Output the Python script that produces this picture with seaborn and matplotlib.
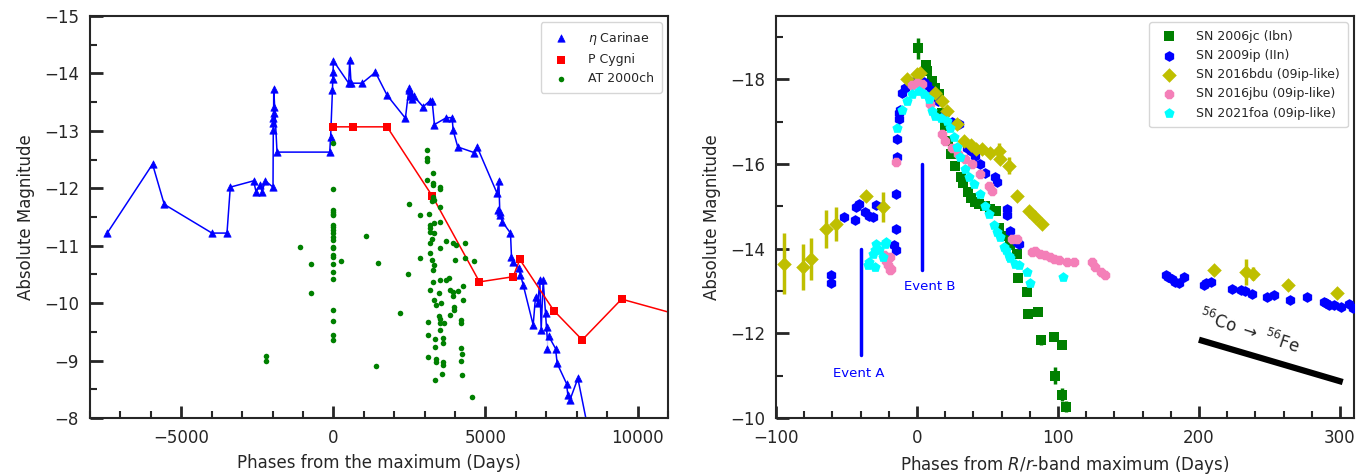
import numpy as np
import pandas as pd
import matplotlib
matplotlib.use("Agg")
import matplotlib.pyplot as plt
from matplotlib.ticker import MultipleLocator
import seaborn as sns

sns.set_style("ticks")
plt.rcParams['font.family'] = ['DejaVu Sans']

# ---------------- Left panel data ----------------
eta_x = [-7434, -5944, -5559, -3990, -3497, -3388, -2620, -2543, -2401, -2346, -2237, -1984,
         -1975, -1972, -1969, -1966, -1963, -1960, -1852, -120, -90, -30, -20, -10, 0,
         503, 537, 581, 943, 1382, 1766, 2368, 2477, 2500, 2530, 2560, 2600, 2650, 2950,
         3168, 3247, 3322, 3717, 3904, 3937, 4089, 4638, 4726, 5384, 5439, 5471, 5417,
         5493, 5548, 5822, 5855, 5910, 6096, 6151, 6239, 6568, 6645, 6721, 6787, 6831,
         6897, 6974, 7029, 7029, 7083, 7303, 7357, 7664, 7708, 7774, 8037, 8450]
eta_y = [-11.22, -12.42, -11.72, -11.22, -11.22, -12.02, -12.13, -11.94, -12.06, -11.94, -12.13, -12.02,
         -13.01, -13.13, -13.22, -13.31, -13.42, -13.73, -12.63, -12.63, -12.90, -13.71, -13.91, -14.02, -14.22,
         -13.83, -14.23, -13.83, -13.83, -14.02, -13.62, -13.22, -13.71, -13.74, -13.60, -13.65, -13.55, -13.60, -13.42,
         -13.52, -13.52, -13.11, -13.23, -13.23, -13.01, -12.72, -12.62, -12.72, -11.91, -12.13, -11.59, -11.62,
         -11.53, -11.42, -11.22, -10.81, -10.72, -10.61, -10.49, -10.32, -9.62, -10.11, -10.00, -10.40, -9.53,
         -10.40, -9.82, -9.59, -9.21, -9.42, -9.21, -8.95, -8.60, -8.40, -8.31, -8.69, -7.60]

pcyg_x = [-10, 648, 1766, 3246, 4803, 5910, 6129, 7247, 8180, 9474, 12000]
pcyg_y = [-13.07, -13.07, -13.07, -11.87, -10.37, -10.46, -10.76, -9.87, -9.36, -10.07, -9.70]

at_x = [0, 0, 0, 0, 0, 0, 0, 0, 0, 0, 0, 0, 0, 0, 0, 0, 0, 0, 0, 0, 0, 0, 0,
        -1086, -734, -734, -2204, -2204, 252, 1075, 1470, 1404,
        3082, 3082, 3082, 3280, 3082, 3280, 3280, 3497, 3497, 2500, 3280, 3300, 3497, 2862, 3136, 3245,
        3497, 3300, 3168, 3168, 3168, 3300, 3250, 3191, 3497, 3191, 3246, 3300, 3280, 3717, 3937, 4046,
        4342, 2851, 2456, 4013, 4342, 4616, 3497, 3793, 3717, 3280, 3191, 3827, 3937, 4089, 3937, 4276,
        4276, 3464, 3300, 3388, 3530, 3980, 3980, 2182, 3464, 3849, 3103, 3497, 3497, 3651, 4200, 4200,
        3497, 3114, 3332, 3596, 3596, 3332, 4211, 4243, 3114, 3366, 3366, 3607, 3607, 4211, 3585, 3355,
        4243, 4572]
at_y = [-12.78, -11.98, -11.62, -11.59, -11.56, -11.53, -11.36, -11.33, -11.27, -11.22, -11.16, -11.10,
        -10.98, -10.96, -10.84, -10.81, -10.69, -10.55, -10.42, -9.88, -9.69, -9.45, -9.35,
        -10.98, -10.68, -10.18, -9.08, -9.00, -10.74, -11.17, -10.70, -8.91,
        -12.67, -12.53, -12.47, -12.26, -12.14, -12.10, -12.05, -12.03, -11.98, -11.73, -11.84, -11.80, -11.68, -11.53, -11.56, -11.77,
        -11.42, -11.39, -11.36, -11.30, -11.24, -11.22, -11.12, -11.04, -10.96, -10.87, -10.75, -10.66, -10.57, -11.09, -11.04, -11.01,
        -11.05, -10.79, -10.51, -10.75, -10.78, -10.73, -10.40, -10.43, -10.40, -10.37, -10.23, -10.23, -10.20, -10.22, -10.12, -10.30,
        -10.05, -10.17, -10.05, -9.97, -10.00, -9.94, -9.88, -9.82, -9.78, -9.79, -9.68, -9.72, -9.65, -9.65, -9.71, -9.65,
        -9.53, -9.45, -9.37, -9.40, -9.30, -9.23, -9.22, -9.11, -9.06, -9.03, -8.98, -8.97, -8.93, -8.99, -8.77, -8.67,
        -8.75, -8.37]

# ---------------- Right panel data ----------------
sn06_x = [0.5, 6.5, 7, 10.5, 13, 15.5, 18, 20, 22, 24, 27, 31, 33, 36, 38, 41, 44, 48, 52, 56, 58,
          62, 66, 71, 72, 78, 79, 86, 88, 97, 98, 103, 103, 106]
sn06_y = [-18.74, -18.35, -18.20, -17.96, -17.80, -17.65, -17.20, -16.90, -16.55, -16.25, -15.95, -15.70,
          -15.55, -15.35, -15.20, -15.10, -15.05, -15.00, -14.95, -14.90, -14.50, -14.30, -14.10, -13.88,
          -13.30, -12.98, -12.45, -12.50, -11.85, -11.92, -11.00, -11.72, -10.55, -10.27]
sn06_e = [0.25, 0.05, 0.05, 0.05, 0.05, 0.05, 0.05, 0.05, 0.05, 0.05, 0.05, 0.05, 0.05, 0.05, 0.05,
          0.05, 0.05, 0.05, 0.05, 0.05, 0.05, 0.05, 0.05, 0.05, 0.05, 0.05, 0.08, 0.05, 0.12, 0.05,
          0.20, 0.05, 0.15, 0.12]

sn09_x = [-61, -61, -52, -44, -43, -41, -37, -34, -31, -29, -15, -15, -16, -15, -14.5, -14, -13, -13,
          -12, -10.7, -8.3, -4, 0, 5, 7, 10, 15, 20, 25, 29.5, 35.5, 38, 41.4, 45, 48.5, 55.6, 56.8,
          63.9, 63.9, 66.3, 71, 72.2, 176.4, 178, 181.1, 183, 185.8, 189.3, 203.6, 205, 208.3, 223.7,
          229.6, 233, 237.9, 248.6, 253.3, 264.6, 277, 288.4, 290, 292.3, 296, 300.6, 306.5, 309]
sn09_y = [-13.37, -13.18, -14.74, -14.67, -14.98, -15.06, -14.86, -14.78, -14.74, -15.04, -15.29, -14.47,
          -14.08, -13.96, -16.16, -16.59, -17.06, -17.21, -17.29, -17.68, -17.80, -17.95, -17.98, -17.95,
          -17.88, -17.75, -17.50, -17.20, -17.00, -16.94, -16.39, -16.31, -16.20, -16.00, -15.80, -15.69,
          -15.57, -14.94, -14.80, -14.43, -14.15, -14.12, -13.37, -13.33, -13.29, -13.22, -13.18, -13.33,
          -13.14, -13.20, -13.21, -13.06, -13.02, -12.99, -12.94, -12.86, -12.90, -12.78, -12.85, -12.74,
          -12.72, -12.67, -12.68, -12.63, -12.70, -12.59]

sn16b_x = [-94, -81, -75, -64.4, -57.3, -36, -24.2, -7.1, 0, 2.3, 13, 17.8, 21.3, 28.4, 33.1, 38, 42,
           46.2, 52, 58, 59.2, 65, 71, 79.3, 84, 88.8, 210.7, 233.2, 238.6, 263.2, 297.8]
sn16b_y = [-13.65, -13.57, -13.76, -14.47, -14.59, -15.25, -14.98, -18.00, -18.12, -18.16, -17.68, -17.49,
           -17.25, -16.94, -16.55, -16.45, -16.35, -16.35, -16.27, -16.31, -16.12, -15.96, -15.25, -14.90,
           -14.74, -14.59, -13.49, -13.45, -13.41, -13.15, -12.96]
sn16b_e = [0.73, 0.55, 0.50, 0.45, 0.40, 0.10, 0.35, 0.10, 0.10, 0.10, 0.10, 0.10, 0.10, 0.10, 0.10,
           0.10, 0.10, 0.10, 0.10, 0.20, 0.10, 0.20, 0.10, 0.10, 0.10, 0.10, 0.10, 0.30, 0.15, 0.10, 0.10]

sn16j_x = [-23.7, -21.8, -20.6, -19.4, -18.3, -19, -14.7, -3.6, 0, 3.6, 9.4, 17.8, 20.1, 24.9, 29, 34,
           39, 45, 50.9, 53, 67.5, 71, 81.7, 84, 87.6, 91, 94.7, 97.5, 100.6, 106.5, 111.2, 124.3,
           126.6, 130.2, 133.7]
sn16j_y = [-13.85, -13.72, -13.61, -13.80, -13.53, -13.49, -16.06, -17.88, -17.92, -17.90, -17.41, -16.71,
           -16.55, -16.37, -16.25, -16.12, -16.00, -15.76, -15.49, -15.37, -14.24, -14.24, -13.92, -13.94,
           -13.88, -13.85, -13.80, -13.76, -13.73, -13.69, -13.69, -13.69, -13.57, -13.45, -13.37]

sn21_x = [-34.4, -33.7, -31.3, -30.1, -29.6, -28.9, -26.6, -24.2, -22.5, -21.8, -14.2, -10.7, -7.1,
          -3.6, 1.2, 4.7, 8.3, 10.7, 13, 17, 21.3, 23.7, 26, 28.5, 30.8, 34.3, 37, 40.2, 45, 48.5,
          50.9, 54.4, 57, 59.2, 61.5, 63, 65, 66.3, 69.8, 72.2, 78.1, 80.5, 103.7]
sn21_y = [-13.61, -13.69, -13.88, -13.57, -13.96, -14.12, -13.96, -13.80, -14.12, -14.16, -16.86, -17.29,
          -17.49, -17.65, -17.73, -17.65, -17.53, -17.25, -17.14, -17.10, -17.02, -16.86, -16.63, -16.40,
          -16.16, -15.88, -15.70, -15.53, -15.29, -15.02, -14.82, -14.55, -14.40, -14.27, -14.04, -13.96,
          -13.84, -13.77, -13.65, -13.61, -13.45, -13.18, -13.33]

event_x = [-40, 3.5]
event_top = [-14.0, -16.0]
event_bottom = [-11.5, -13.5]
event_labels = ["Event A", "Event B"]
co_x = [200, 302]
co_y = [-11.85, -10.85]

# ---------------- Figure ----------------
fig = plt.figure(figsize=(13.69, 4.76), dpi=100)
ax1 = fig.add_axes([90/1369, 1-418/476, 578/1369, 402/476])
ax2 = fig.add_axes([776/1369, 1-418/476, 578/1369, 402/476])

# left panel
sns.lineplot(x=eta_x, y=eta_y, sort=False, color='blue', lw=1.1, ax=ax1, legend=False, zorder=2)
sns.scatterplot(x=eta_x, y=eta_y, marker='^', color='blue', s=28, edgecolor='blue', linewidth=0.5,
                ax=ax1, label=r'$\eta$ Carinae', zorder=3)
sns.lineplot(x=pcyg_x, y=pcyg_y, sort=False, color='red', lw=1.1, ax=ax1, legend=False, zorder=2)
sns.scatterplot(x=pcyg_x, y=pcyg_y, marker='s', color='red', s=28, edgecolor='red', linewidth=0,
                ax=ax1, label='P Cygni', zorder=3)
sns.scatterplot(x=at_x, y=at_y, marker='o', color='green', s=16, edgecolor='green', linewidth=0,
                ax=ax1, label='AT 2000ch', zorder=3)

ax1.set_xlim(-8000, 11000)
ax1.set_ylim(-8, -15)
ax1.xaxis.set_major_locator(MultipleLocator(5000))
ax1.xaxis.set_minor_locator(MultipleLocator(1000))
ax1.yaxis.set_major_locator(MultipleLocator(1))
ax1.yaxis.set_minor_locator(MultipleLocator(0.5))
ax1.set_xlabel('Phases from the maximum (Days)', fontsize=12, labelpad=5)
ax1.set_ylabel('Absolute Magnitude', fontsize=12, labelpad=6)
ax1.legend(loc='upper right', fontsize=9, borderpad=0.6, handletextpad=1.2, framealpha=0.8)

# right panel
series = [
    (sn06_x, sn06_y, sn06_e, 's', 'green', 48, 'SN 2006jc (Ibn)'),
    (sn09_x, sn09_y, None, 'h', 'blue', 60, 'SN 2009ip (IIn)'),
    (sn16b_x, sn16b_y, sn16b_e, 'D', '#bfbf00', 55, 'SN 2016bdu (09ip-like)'),
    (sn16j_x, sn16j_y, None, '8', '#f47fb8', 55, 'SN 2016jbu (09ip-like)'),
    (sn21_x, sn21_y, None, 'p', 'cyan', 60, 'SN 2021foa (09ip-like)'),
]
for i, (xs, ys, es, mk, col, sz, lab) in enumerate(series):
    if es is not None:
        ax2.errorbar(xs, ys, yerr=es, fmt='none', ecolor=col, elinewidth=2.5, capsize=0, zorder=2 + i)
    sns.scatterplot(x=xs, y=ys, marker=mk, color=col, s=sz, edgecolor=col, linewidth=0,
                    ax=ax2, label=lab, zorder=2 + i)

for ex, et, eb, lab in zip(event_x, event_top, event_bottom, event_labels):
    ax2.plot([ex, ex], [eb, et], color='blue', lw=2.5, zorder=10)
ax2.text(-41, -11.05, event_labels[0], color='blue', fontsize=9.5, ha='center', va='center')
ax2.text(9, -13.1, event_labels[1], color='blue', fontsize=9.5, ha='center', va='center')
ax2.plot(co_x, co_y, color='black', lw=4.5, solid_capstyle='butt', zorder=10)
ax2.text(236, -12.05, r'$^{56}$Co $\rightarrow$ $^{56}$Fe', fontsize=12, rotation=-18,
         ha='center', va='center')

ax2.set_xlim(-100, 310)
ax2.set_ylim(-10, -19.5)
ax2.xaxis.set_major_locator(MultipleLocator(100))
ax2.xaxis.set_minor_locator(MultipleLocator(20))
ax2.yaxis.set_major_locator(MultipleLocator(2))
ax2.yaxis.set_minor_locator(MultipleLocator(1))
ax2.set_xlabel(r'Phases from $R/r$-band maximum (Days)', fontsize=12, labelpad=5)
ax2.set_ylabel('Absolute Magnitude', fontsize=12, labelpad=6)
ax2.legend(loc='upper right', fontsize=9, borderpad=0.6, handletextpad=1.2, framealpha=0.8)

for ax in (ax1, ax2):
    for sp in ax.spines.values():
        sp.set_linewidth(1.5)
        sp.set_visible(True)
    ax.tick_params(which='major', direction='in', length=9, width=2, labelsize=12, pad=8)
    ax.tick_params(which='minor', direction='in', length=5, width=1.5)

fig.savefig('out.png', dpi=100)
